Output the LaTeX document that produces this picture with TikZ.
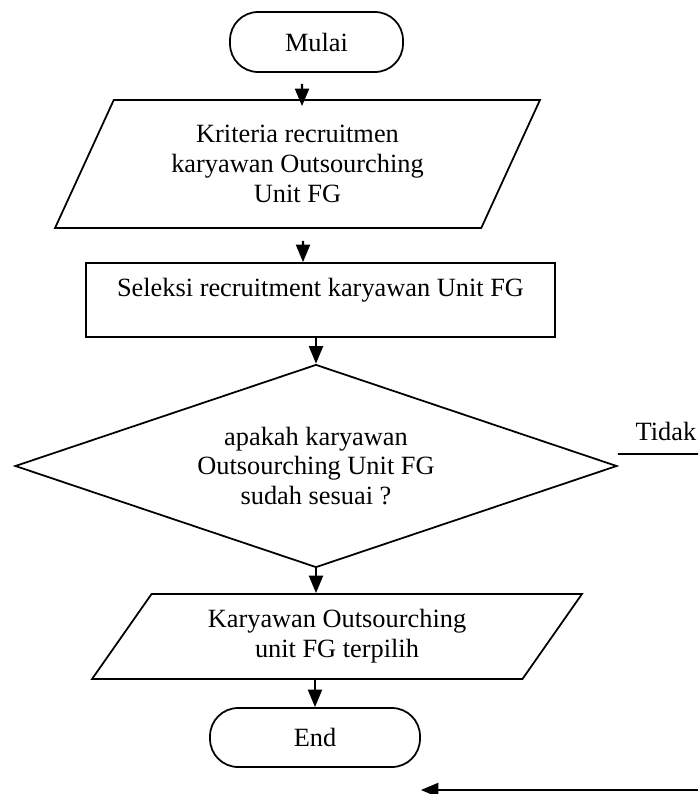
\documentclass[tikz,border=0pt]{standalone}
\usepackage{fontspec}
\setmainfont{Liberation Serif}
\usetikzlibrary{arrows.meta, shapes.geometric}

\begin{document}
\begin{tikzpicture}[x=0.02cm, y=-0.02cm, line width=1pt,
    every node/.style={font=\fontsize{15}{17}\selectfont, align=center},
    terminal/.style={draw, rectangle, rounded corners=16pt, minimum height=1.2cm},
    proses/.style={draw, rectangle, minimum width=9.38cm, minimum height=1.48cm},
    miring/.style={draw, trapezium, trapezium stretches body, inner sep=0pt},
    panah/.style={-{Triangle[length=10pt,width=8pt]}, line width=1.2pt}]
    \useasboundingbox (0,0) rectangle (698,794);

    % Mulai dan input kriteria
    \node[terminal, minimum width=3.46cm] (mulai) at (316.5,42) {Mulai};
    \node[miring, trapezium left angle=52.84, trapezium right angle=127.16,
          minimum width=9.7cm, minimum height=2.56cm] (krit) at (297.5,164)
          {Kriteria recruitmen\\karyawan Outsourching\\Unit FG};

    % Proses seleksi
    \node[proses] (seleksi) at (320.5,300)
          {\raisebox{5.5pt}[\height][\depth]{Seleksi recruitment karyawan Unit FG}};

    % Keputusan
    \node[draw, diamond, aspect=3, inner sep=0pt, minimum width=12.04cm,
          minimum height=4.06cm] (tanya) at (316,466)
          {apakah karyawan\\Outsourching Unit FG\\sudah sesuai ?};
    \node[anchor=base] (tidak) at (666,440) {Tidak};
    \coordinate (tepi) at (698,454);

    % Output dan End
    \node[miring, trapezium left angle=42.1, trapezium right angle=137.9,
          minimum width=9.8cm, minimum height=1.7cm] (hasil) at (337,636.5)
          {Karyawan Outsourching\\unit FG terpilih};
    \node[terminal, minimum width=4.2cm, minimum height=1.18cm] (end) at (315,737.5) {End};
    \coordinate (kanan) at (698,790);

    % Panah
    \draw[panah] ([xshift=-0.29cm, yshift=-0.22cm]mulai.south) -- ([xshift=0.09cm, yshift=-0.14cm]krit.north);
    \draw[panah] ([xshift=0.11cm, yshift=-0.24cm]krit.south) -- ([xshift=-0.35cm]seleksi.north);
    \draw[panah] (seleksi.south -| tanya.north) -- (tanya.north);
    \draw[panah] (tanya.south) -- (tanya.south |- hasil.north);
    \draw[panah] (hasil.south -| end.north) -- (end.north);
    \draw ([yshift=0.24cm]tanya.east) -- (tepi);
    \draw[panah] (kanan) -- (kanan -| end.east);
\end{tikzpicture}
\end{document}
